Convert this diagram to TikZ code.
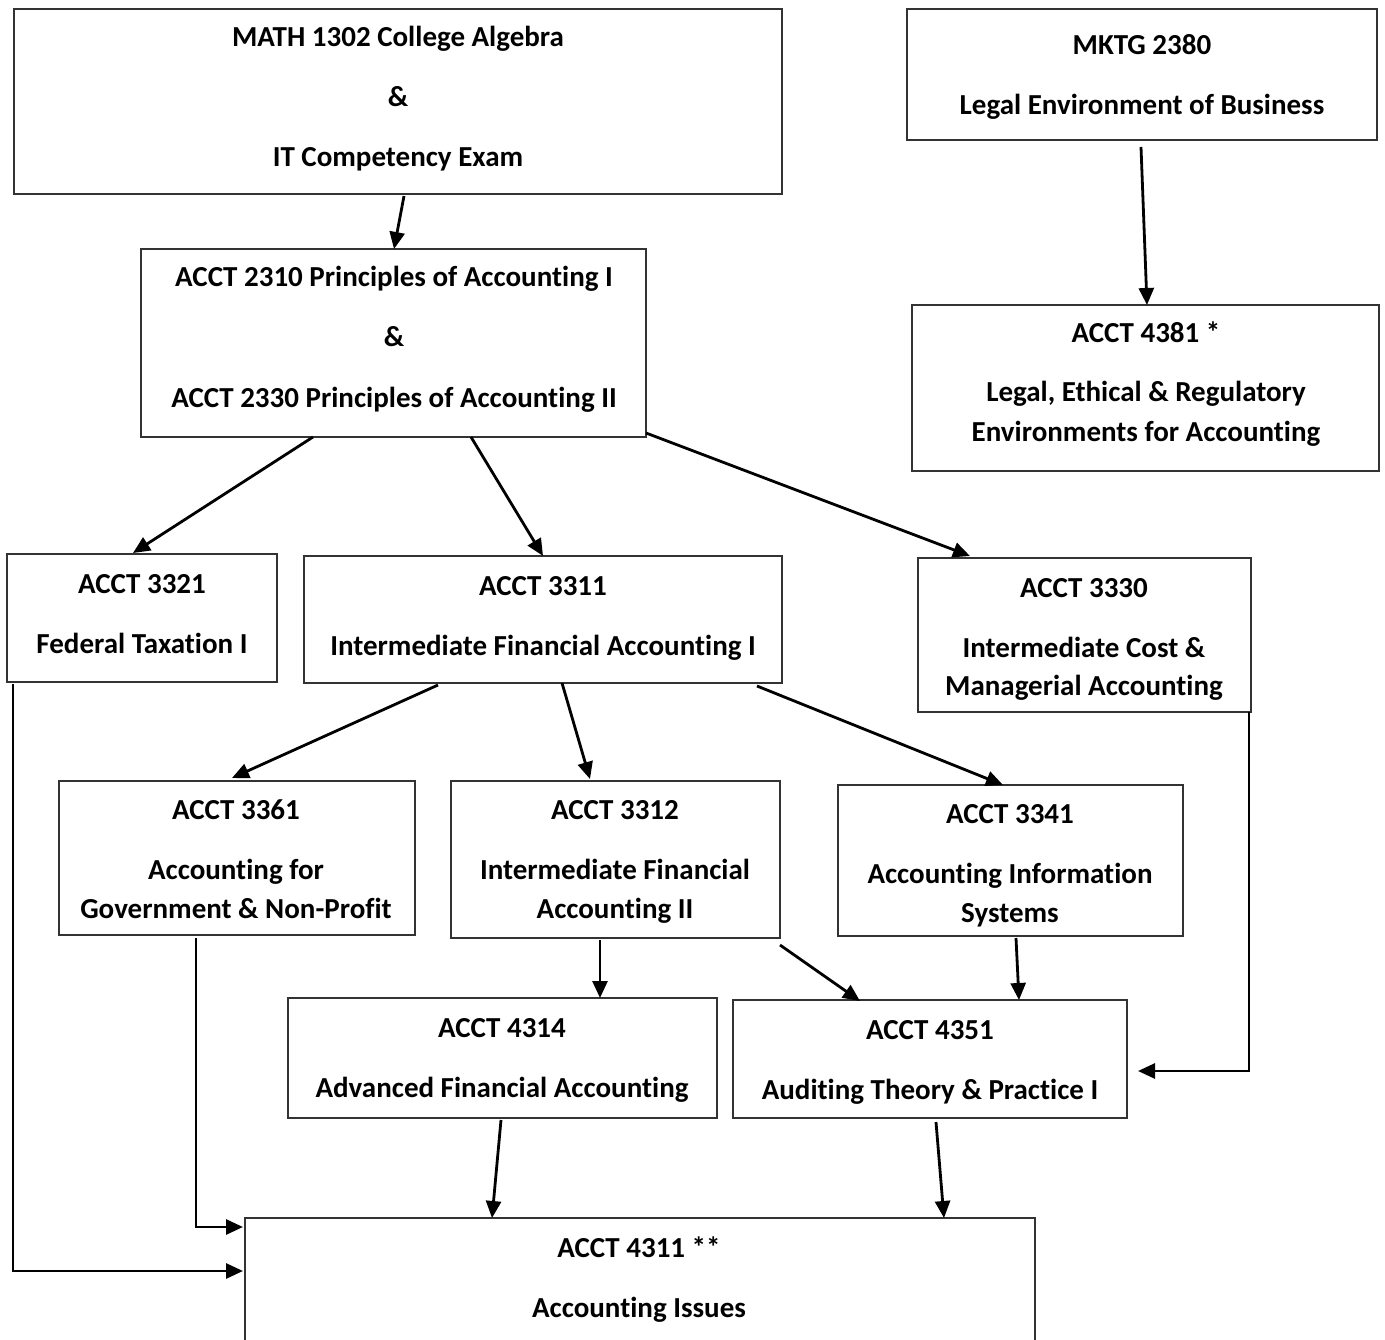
\documentclass[tikz,border=0pt]{standalone}
\usepackage{fontspec}
\setmainfont{Carlito}[Ligatures=NoCommon]
\usetikzlibrary{arrows.meta}
\begin{document}
\begin{tikzpicture}[x=1pt,y=-1pt,
  cbox/.style={draw=black!80,line width=1.4pt,inner sep=0pt,outer sep=0pt,rectangle},
  ctext/.style={anchor=base,inner sep=0pt,font=\fontsize{29}{36}\selectfont\bfseries},
  carrow/.style={line width=2.8pt,-{Triangle[length=17pt,width=15pt]}}]
\useasboundingbox (0,0) rectangle (1385,1340);
% boxes
\node[cbox,minimum width=768pt,minimum height=185pt] (math) at (398,101.5) {};
\node[cbox,minimum width=470pt,minimum height=131pt] (mktg) at (1142,74.5) {};
\node[cbox,minimum width=505pt,minimum height=188pt] (p2310) at (393.5,343) {};
\node[cbox,minimum width=467pt,minimum height=166pt] (a4381) at (1145.5,388) {};
\node[cbox,minimum width=270pt,minimum height=128pt] (a3321) at (142,618) {};
\node[cbox,minimum width=478pt,minimum height=127pt] (a3311) at (543,619.5) {};
\node[cbox,minimum width=333pt,minimum height=154pt] (a3330) at (1084.5,635) {};
\node[cbox,minimum width=356pt,minimum height=154pt] (a3361) at (237,858) {};
\node[cbox,minimum width=329pt,minimum height=157pt] (a3312) at (615.5,859.5) {};
\node[cbox,minimum width=345pt,minimum height=151pt] (a3341) at (1010.5,860.5) {};
\node[cbox,minimum width=429pt,minimum height=120pt] (a4314) at (502.5,1058) {};
\node[cbox,minimum width=394pt,minimum height=118pt] (a4351) at (930,1059) {};
\node[cbox,minimum width=790pt,minimum height=127pt] (a4311) at (640,1281.5) {};
% texts
\node[ctext] (t1a) at (398,47) {MATH 1302 College Algebra};
\node[ctext] (t1b) at (398,107) {\&};
\node[ctext] (t1c) at (398,167) {IT Competency Exam};
\node[ctext] (t2a) at (1142,55) {MKTG 2380};
\node[ctext] (t2b) at (1142,115) {Legal Environment of Business};
\node[ctext] (t3a) at (394,287) {ACCT 2310 Principles of Accounting I};
\node[ctext] (t3b) at (394,347) {\&};
\node[ctext] (t3c) at (394,407) {ACCT 2330 Principles of Accounting II};
\node[ctext] (t4a) at (1146,343) {ACCT 4381 *};
\node[ctext] (t4b) at (1146,402) {Legal, Ethical \& Regulatory};
\node[ctext] (t4c) at (1146,442) {Environments for Accounting};
\node[ctext] (t5a) at (142,593) {ACCT 3321};
\node[ctext] (t5b) at (142,653) {Federal Taxation I};
\node[ctext] (t6a) at (543,595) {ACCT 3311};
\node[ctext] (t6b) at (543,655) {Intermediate Financial Accounting I};
\node[ctext] (t7a) at (1084,597) {ACCT 3330};
\node[ctext] (t7b) at (1084,657) {Intermediate Cost \&};
\node[ctext] (t7c) at (1084,695) {Managerial Accounting};
\node[ctext] (t8a) at (236,819) {ACCT 3361};
\node[ctext] (t8b) at (236,879) {Accounting for};
\node[ctext] (t8c) at (236,918) {Government \& Non-Profit};
\node[ctext] (t9a) at (615,819) {ACCT 3312};
\node[ctext] (t9b) at (615,879) {Intermediate Financial};
\node[ctext] (t9c) at (615,918) {Accounting II};
\node[ctext] (t10a) at (1010,823) {ACCT 3341};
\node[ctext] (t10b) at (1010,883) {Accounting Information};
\node[ctext] (t10c) at (1010,922) {Systems};
\node[ctext] (t11a) at (502,1037) {ACCT 4314};
\node[ctext] (t11b) at (502,1097) {Advanced Financial Accounting};
\node[ctext] (t12a) at (930,1039) {ACCT 4351};
\node[ctext] (t12b) at (930,1099) {Auditing Theory \& Practice I};
\node[ctext] (t13a) at (639,1257) {ACCT 4311 **};
\node[ctext] (t13b) at (639,1317) {Accounting Issues};
% connectors
\draw[carrow] ([xshift=390pt,yshift=-2pt]math.south west) -- ([xshift=253pt]p2310.north west);
\draw[carrow] ([xshift=234pt,yshift=-7pt]mktg.south west) -- ([xshift=235pt]a4381.north west);
\draw[carrow] ([xshift=172pt]p2310.south west) -- ([xshift=126pt,yshift=1pt]a3321.north west);
\draw[carrow] ([xshift=330pt]p2310.south west) -- ([xshift=239pt]a3311.north west);
\draw[carrow] ([yshift=4pt]p2310.south east) -- ([xshift=52pt,yshift=2pt]a3330.north west);
\draw[carrow] ([xshift=6pt,yshift=-2pt]a3321.south west) |- ([xshift=-2pt,yshift=-53pt]a4311.north west);
\draw[carrow] ([xshift=134pt,yshift=-2pt]a3311.south west) -- ([xshift=173pt,yshift=3pt]a3361.north west);
\draw[carrow] ([xshift=258pt]a3311.south west) -- ([xshift=139pt,yshift=2pt]a3312.north west);
\draw[carrow] ([xshift=453pt,yshift=-3pt]a3311.south west) -- ([xshift=165pt]a3341.north west);
\draw[carrow] ([xshift=137pt,yshift=-3pt]a3361.south west) |- ([xshift=-2pt,yshift=-9pt]a4311.north west);
\draw[carrow] ([xshift=149pt,yshift=-2pt]a3312.south west) -- ([xshift=312pt]a4314.north west);
\draw[carrow] ([yshift=-7pt]a3312.south east) -- ([xshift=127pt,yshift=-1pt]a4351.north west);
\draw[carrow] ([xshift=178pt,yshift=-2pt]a3341.south west) -- ([xshift=286pt]a4351.north west);
\draw[carrow] ([xshift=-2pt]a3330.south east) |- ([xshift=11pt,yshift=-71pt]a4351.north east);
\draw[carrow] ([xshift=213pt,yshift=-2pt]a4314.south west) -- ([xshift=247pt]a4311.north west);
\draw[carrow] ([xshift=203pt,yshift=-4pt]a4351.south west) -- ([xshift=699pt]a4311.north west);
\end{tikzpicture}
\end{document}
